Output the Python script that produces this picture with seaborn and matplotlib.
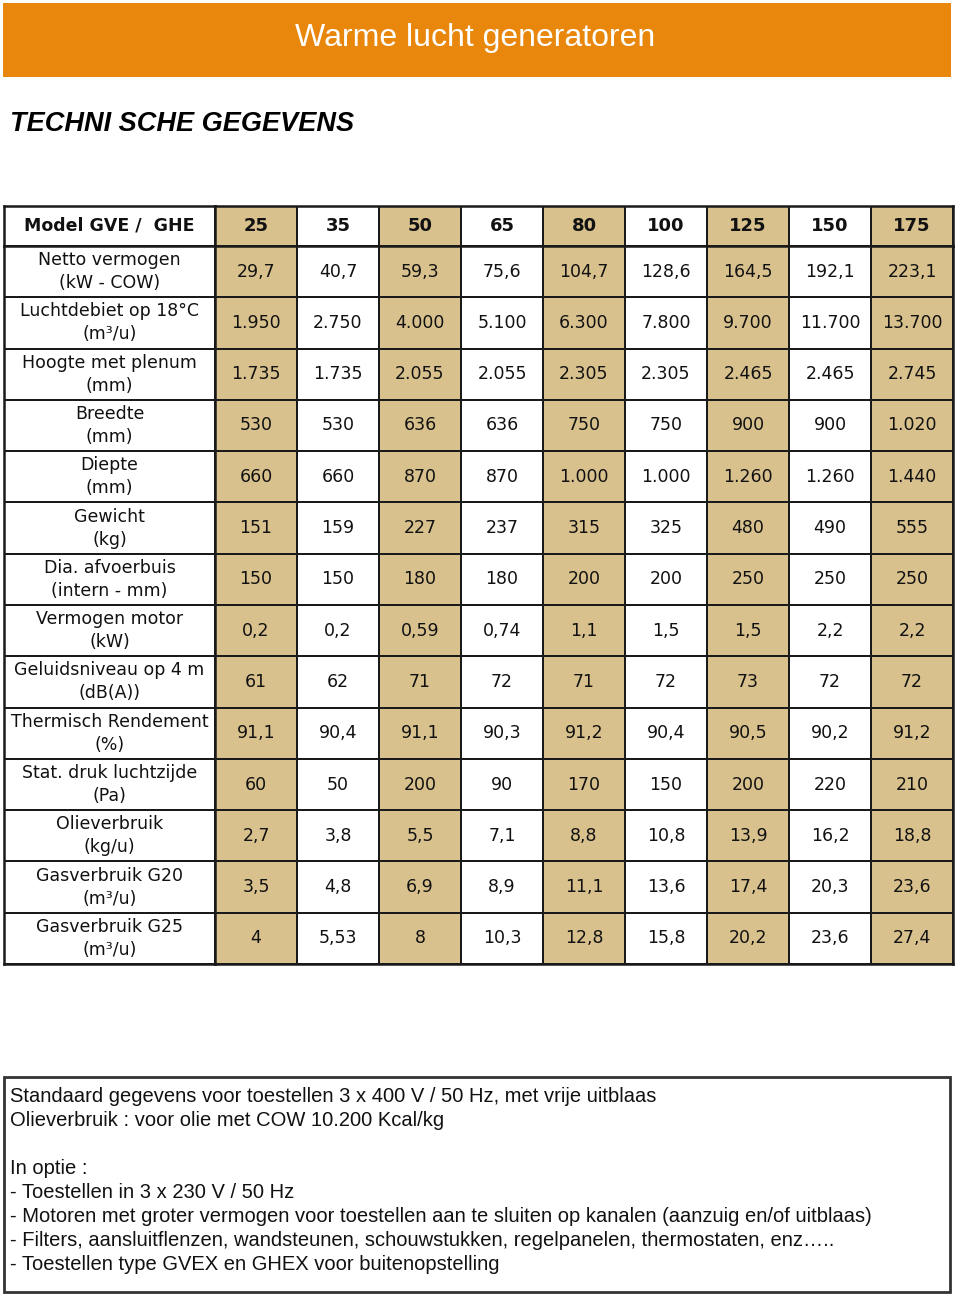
import numpy as np
import matplotlib
matplotlib.use("Agg")
import matplotlib.pyplot as plt
from matplotlib.colors import ListedColormap
from matplotlib.patches import Rectangle
import seaborn as sns

# Table content
models = ["25", "35", "50", "65", "80", "100", "125", "150", "175"]
row_labels = [
    "Netto vermogen\n(kW - COW)",
    "Luchtdebiet op 18°C\n(m³/u)",
    "Hoogte met plenum\n(mm)",
    "Breedte\n(mm)",
    "Diepte\n(mm)",
    "Gewicht\n(kg)",
    "Dia. afvoerbuis\n(intern - mm)",
    "Vermogen motor\n(kW)",
    "Geluidsniveau op 4 m\n(dB(A))",
    "Thermisch Rendement\n(%)",
    "Stat. druk luchtzijde\n(Pa)",
    "Olieverbruik\n(kg/u)",
    "Gasverbruik G20\n(m³/u)",
    "Gasverbruik G25\n(m³/u)",
]
netto = ["29,7", "40,7", "59,3", "75,6", "104,7", "128,6", "164,5", "192,1", "223,1"]
luchtdebiet = ["1.950", "2.750", "4.000", "5.100", "6.300", "7.800", "9.700", "11.700", "13.700"]
hoogte = ["1.735", "1.735", "2.055", "2.055", "2.305", "2.305", "2.465", "2.465", "2.745"]
breedte = ["530", "530", "636", "636", "750", "750", "900", "900", "1.020"]
diepte = ["660", "660", "870", "870", "1.000", "1.000", "1.260", "1.260", "1.440"]
gewicht = ["151", "159", "227", "237", "315", "325", "480", "490", "555"]
afvoerbuis = ["150", "150", "180", "180", "200", "200", "250", "250", "250"]
motor = ["0,2", "0,2", "0,59", "0,74", "1,1", "1,5", "1,5", "2,2", "2,2"]
geluid = ["61", "62", "71", "72", "71", "72", "73", "72", "72"]
rendement = ["91,1", "90,4", "91,1", "90,3", "91,2", "90,4", "90,5", "90,2", "91,2"]
druk = ["60", "50", "200", "90", "170", "150", "200", "220", "210"]
olie = ["2,7", "3,8", "5,5", "7,1", "8,8", "10,8", "13,9", "16,2", "18,8"]
gas_g20 = ["3,5", "4,8", "6,9", "8,9", "11,1", "13,6", "17,4", "20,3", "23,6"]
gas_g25 = ["4", "5,53", "8", "10,3", "12,8", "15,8", "20,2", "23,6", "27,4"]

note_lines = [
    "Standaard gegevens voor toestellen 3 x 400 V / 50 Hz, met vrije uitblaas",
    "Olieverbruik : voor olie met COW 10.200 Kcal/kg",
    "",
    "In optie :",
    "- Toestellen in 3 x 230 V / 50 Hz",
    "- Motoren met groter vermogen voor toestellen aan te sluiten op kanalen (aanzuig en/of uitblaas)",
    "- Filters, aansluitflenzen, wandsteunen, schouwstukken, regelpanelen, thermostaten, enz…..",
    "- Toestellen type GVEX en GHEX voor buitenopstelling",
]

ORANGE = "#E8870B"
TAN = "#D8C18D"
LINE = "#1a1a1a"

sns.set_theme(style="white")
plt.rcParams["font.family"] = ["DejaVu Sans"]

W, H = 960, 1294
fig = plt.figure(figsize=(W / 100, H / 100), dpi=100)


def px_axes(x0, y0, x1, y1):
    return fig.add_axes([x0 / W, 1 - y1 / H, (x1 - x0) / W, (y1 - y0) / H])


# background layer (banner, titles, notes box)
bg = fig.add_axes([0, 0, 1, 1])
bg.set_xlim(0, W)
bg.set_ylim(H, 0)
bg.axis("off")
bg.add_patch(Rectangle((3, 3), 948, 74, color=ORANGE, lw=0))
bg.text(475, 38, "Warme lucht generatoren", color="white", fontsize=23,
        family="Liberation Sans", ha="center", va="center")
bg.text(10, 124, "TECHNI SCHE GEGEVENS", fontsize=19.5, family="Liberation Sans",
        weight="bold", style="italic", ha="left", va="center", color="black")
bg.add_patch(Rectangle((4, 1077), 946, 215, fill=False, ec="#333333", lw=2))
for i, line in enumerate(note_lines):
    bg.text(10, 1097 + 24 * i, line, fontsize=14.5,
            family=["Liberation Sans Narrow", "Liberation Sans"],
            ha="left", va="center", color="#111111")

# table parts
data = np.array([netto, luchtdebiet, hoogte, breedte, diepte, gewicht, afvoerbuis,
                 motor, geluid, rendement, druk, olie, gas_g20, gas_g25])
shade = np.tile((np.arange(len(models)) % 2 == 0).astype(int), (len(row_labels), 1))
cmap2 = ListedColormap(["white", TAN])
x_lab, x_dat, x_end = 4, 215, 953
y_top, y_hdr, y_end = 206, 246, 964


def draw(ax, values, annot, size=12.5, bold=False):
    sns.heatmap(values, ax=ax, cmap=cmap2, vmin=0, vmax=1, cbar=False,
                annot=annot, fmt="", linewidths=1.1, linecolor=LINE,
                xticklabels=False, yticklabels=False,
                annot_kws={"fontsize": size, "color": "#111111",
                           "family": "DejaVu Sans", "linespacing": 1.35,
                           "weight": "bold" if bold else "normal"})
    for sp in ax.spines.values():
        sp.set_visible(True)
        sp.set_linewidth(1.8)
        sp.set_color(LINE)


draw(px_axes(x_lab, y_top, x_dat, y_hdr), np.zeros((1, 1)),
     np.array([["Model GVE /  GHE"]]), size=12.5, bold=True)
draw(px_axes(x_dat, y_top, x_end, y_hdr), shade[:1], np.array([models]),
     size=13, bold=True)
draw(px_axes(x_lab, y_hdr, x_dat, y_end), np.zeros((len(row_labels), 1)),
     np.array(row_labels).reshape(-1, 1), size=12.5)
draw(px_axes(x_dat, y_hdr, x_end, y_end), shade, data, size=12.5)

fig.savefig("out.png", dpi=100)
